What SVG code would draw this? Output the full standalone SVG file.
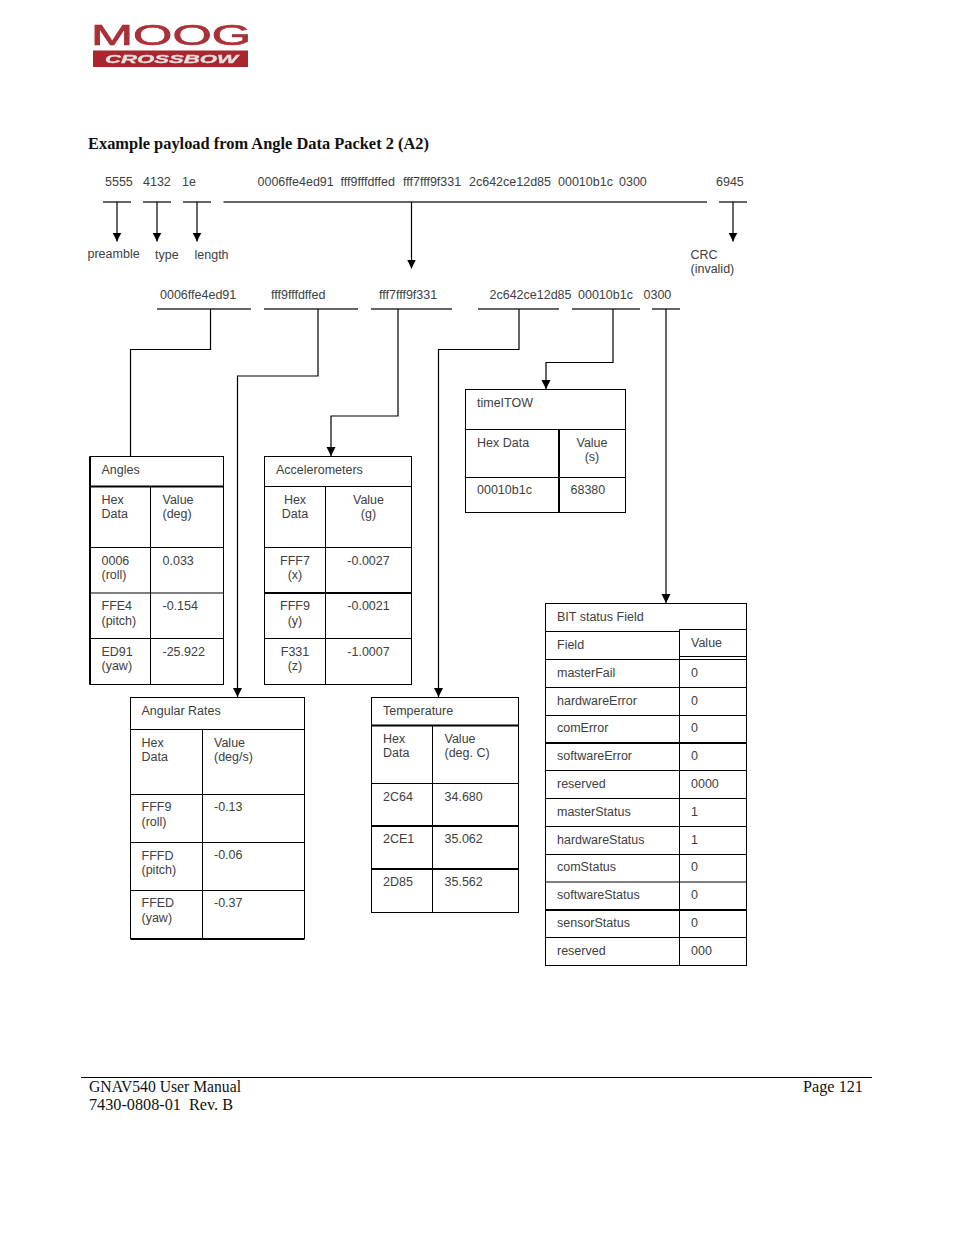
<svg xmlns="http://www.w3.org/2000/svg" width="954" height="1235" viewBox="0 0 954 1235">
<defs>
<marker id="ah" markerUnits="userSpaceOnUse" markerWidth="10" markerHeight="10" refX="9" refY="4.5" orient="auto"><path d="M0,0 L9,4.5 L0,9 Z" fill="#000"/></marker>
<filter id="soft" x="-5%" y="-5%" width="110%" height="110%"><feGaussianBlur stdDeviation="0.5"/></filter>
</defs>
<style>
text{font-family:"Liberation Sans",Arial,sans-serif;font-size:12.5px;fill:#404040}
.c{text-anchor:middle}
.ser{font-family:"Liberation Serif","Times New Roman",serif;fill:#111;white-space:pre}
.b{fill:#fff;stroke:#000;stroke-width:1}
.l{stroke:#000;stroke-width:1;fill:none}
.t{stroke:#000;stroke-width:2;fill:none}
.bar{stroke:#333;stroke-width:1.4;fill:none}
.con{stroke:#000;stroke-width:1.2;fill:none}
.arr{marker-end:url(#ah)}
</style>
<rect width="954" height="1235" fill="#fff"/>
<g id="logo" filter="url(#soft)">
<text x="91" y="45" textLength="160" lengthAdjust="spacingAndGlyphs" style="font-size:29px;fill:#a93038;stroke:#a93038;stroke-width:0.7">MOOG</text>
<rect x="93" y="50.5" width="155" height="16.5" fill="#a8252e"/>
<text x="105" y="62.500" textLength="133" lengthAdjust="spacingAndGlyphs" style="font-size:11.500px;font-weight:bold;font-style:italic;fill:#e8e0e0;stroke:#e8e0e0;stroke-width:0.3">CROSSBOW</text>
</g>
<text id="title" class="ser" x="88" y="149" textLength="341" lengthAdjust="spacingAndGlyphs" style="font-size:16.500px;font-weight:bold">Example payload from Angle Data Packet 2 (A2)</text>

<g id="packet-labels">
<text x="105" y="186">5555</text><text x="143" y="186">4132</text><text x="182" y="186">1e</text>
<text x="257.500" y="186">0006ffe4ed91</text><text x="340.500" y="186">fff9fffdffed</text><text x="403" y="186">fff7fff9f331</text><text x="469" y="186">2c642ce12d85</text><text x="558" y="186">00010b1c</text><text x="619" y="186">0300</text><text x="716" y="186">6945</text>
<text x="87.500" y="258">preamble</text><text x="155" y="259">type</text><text x="194.500" y="259">length</text>
<text x="690.500" y="259">CRC</text><text x="690.500" y="273">(invalid)</text>
<text x="160" y="299">0006ffe4ed91</text><text x="271" y="299">fff9fffdffed</text><text x="379" y="299">fff7fff9f331</text><text x="489.500" y="299">2c642ce12d85</text><text x="578" y="299">00010b1c</text><text x="643.500" y="299">0300</text>
</g>

<g id="connectors">
<path class="bar" d="M103,202H131M143,202H171M183,202H211M223.500,202H707M719,202H747"/>
<path class="bar" d="M157,309H251M264,309H358M371,309H452M478,309H559M572,309H640M652,309H680"/>
<path class="con arr" d="M117,202V241.500"/>
<path class="con arr" d="M157,202V241.500"/>
<path class="con arr" d="M197,202V241.500"/>
<path class="con arr" d="M411.500,202V268.500"/>
<path class="con arr" d="M733,202V241.500"/>
<path class="con" d="M210.500,309V349.500H130.500V456.500"/>
<path class="con arr" d="M318,309V376H237.500V697"/>
<path class="con arr" d="M398,309V416H331V456"/>
<path class="con arr" d="M519,309V349.500H438.500V697"/>
<path class="con arr" d="M613,309V362.500H546V389"/>
<path class="con arr" d="M666,309V603"/>
</g>

<g id="timeITOW">
<rect class="b" x="465.500" y="389.500" width="160" height="123"/>
<path class="l" d="M465.500,429.500H625.500M465.500,477.500H625.500"/><path class="t" d="M559,429.500V512.500"/>
<text x="477" y="407">timeITOW</text><text x="477" y="447">Hex Data</text><text class="c" x="592" y="447">Value</text><text class="c" x="592" y="461">(s)</text><text x="477" y="494">00010b1c</text><text x="570.500" y="494">68380</text>
</g>

<g id="angles">
<rect class="b" x="90" y="456.500" width="133.500" height="228"/>
<path class="t" d="M90,456.500V684.500M90,486.500H223.500"/>
<path class="l" d="M90,547.500H223.500M90,593H223.500M90,638.500H223.500M150.500,486.500V684.500"/>
<text x="101.500" y="474">Angles</text><text x="101.500" y="504">Hex</text><text x="101.500" y="518">Data</text><text x="162.500" y="504">Value</text><text x="162.500" y="518">(deg)</text>
<text x="101.500" y="565">0006</text><text x="101.500" y="579">(roll)</text><text x="162.500" y="565">0.033</text>
<text x="101.500" y="610">FFE4</text><text x="101.500" y="625">(pitch)</text><text x="162.500" y="610">-0.154</text>
<text x="101.500" y="656">ED91</text><text x="101.500" y="670">(yaw)</text><text x="162.500" y="656">-25.922</text>
</g>

<g id="accelerometers">
<rect class="b" x="264.500" y="456.500" width="147" height="228"/>
<path class="l" d="M264.500,486.500H411.500M264.500,547.500H411.500M264.500,638.500H411.500M325.500,486.500V684.500"/><path class="t" d="M264.500,593H411.500"/>
<text x="276" y="474">Accelerometers</text><text class="c" x="295" y="504">Hex</text><text class="c" x="295" y="518">Data</text><text class="c" x="368.500" y="504">Value</text><text class="c" x="368.500" y="518">(g)</text>
<text class="c" x="295" y="565">FFF7</text><text class="c" x="295" y="579">(x)</text><text class="c" x="368.500" y="565">-0.0027</text>
<text class="c" x="295" y="610">FFF9</text><text class="c" x="295" y="625">(y)</text><text class="c" x="368.500" y="610">-0.0021</text>
<text class="c" x="295" y="656">F331</text><text class="c" x="295" y="670">(z)</text><text class="c" x="368.500" y="656">-1.0007</text>
</g>

<g id="angular-rates">
<rect class="b" x="130.500" y="697.500" width="174" height="241"/>
<path class="l" d="M130.500,729.500H304.500M130.500,794.500H304.500M130.500,842.500H304.500M130.500,890.500H304.500M202.500,729.500V938.500"/><path class="t" d="M130.500,939H304.500"/>
<text x="141.500" y="715">Angular Rates</text><text x="141.500" y="747">Hex</text><text x="141.500" y="761">Data</text><text x="214" y="747">Value</text><text x="214" y="761">(deg/s)</text>
<text x="141.500" y="811">FFF9</text><text x="141.500" y="826">(roll)</text><text x="214" y="811">-0.13</text>
<text x="141.500" y="860">FFFD</text><text x="141.500" y="874">(pitch)</text><text x="214" y="859">-0.06</text>
<text x="141.500" y="907">FFED</text><text x="141.500" y="922">(yaw)</text><text x="214" y="907">-0.37</text>
</g>

<g id="temperature">
<rect class="b" x="371.500" y="697.500" width="147" height="215"/>
<path class="t" d="M371.500,725.500H518.500M371.500,826H518.500M371.500,869H518.500"/><path class="l" d="M371.500,783.500H518.500M432.500,725.500V912.500"/>
<text x="383" y="715">Temperature</text><text x="383" y="743">Hex</text><text x="383" y="757">Data</text><text x="444.500" y="743">Value</text><text x="444.500" y="757">(deg. C)</text>
<text x="383" y="801">2C64</text><text x="444.500" y="801">34.680</text><text x="383" y="843">2CE1</text><text x="444.500" y="843">35.062</text><text x="383" y="886">2D85</text><text x="444.500" y="886">35.562</text>
</g>

<g id="bit-status">
<rect class="b" x="545.500" y="603.500" width="201" height="362"/>
<path class="l" d="M545.500,631.500H679.500M679.500,629.500H746.500M679.500,656.500H746.500M545.500,659.500H746.500M545.500,687.500H746.500M545.500,715.500H746.500M545.500,770.500H746.500M545.500,798.500H746.500M545.500,826.500H746.500M545.500,854.500H746.500M545.500,882H746.500M545.500,937.500H746.500M679.500,629.500V965.500"/>
<path class="t" d="M545.500,743H746.500M545.500,910H746.500"/>
<text x="557" y="621">BIT status Field</text><text x="557" y="649">Field</text><text x="691" y="647">Value</text>
<text x="557" y="677">masterFail</text><text x="691" y="677">0</text>
<text x="557" y="705">hardwareError</text><text x="691" y="705">0</text>
<text x="557" y="732">comError</text><text x="691" y="732">0</text>
<text x="557" y="760">softwareError</text><text x="691" y="760">0</text>
<text x="557" y="788">reserved</text><text x="691" y="788">0000</text>
<text x="557" y="816">masterStatus</text><text x="691" y="816">1</text>
<text x="557" y="844">hardwareStatus</text><text x="691" y="844">1</text>
<text x="557" y="871">comStatus</text><text x="691" y="871">0</text>
<text x="557" y="899">softwareStatus</text><text x="691" y="899">0</text>
<text x="557" y="927">sensorStatus</text><text x="691" y="927">0</text>
<text x="557" y="955">reserved</text><text x="691" y="955">000</text>
</g>

<g id="footer">
<path d="M81,1077.500H872" stroke="#000" stroke-width="1" fill="none"/>
<text class="ser" x="89" y="1092" textLength="152" lengthAdjust="spacingAndGlyphs" style="font-size:16.500px">GNAV540 User Manual</text>
<text class="ser" x="89" y="1110" textLength="144" lengthAdjust="spacingAndGlyphs" style="font-size:16.500px">7430-0808-01  Rev. B</text>
<text class="ser" x="803" y="1092" textLength="60" lengthAdjust="spacingAndGlyphs" style="font-size:16.500px">Page 121</text>
</g>
</svg>
